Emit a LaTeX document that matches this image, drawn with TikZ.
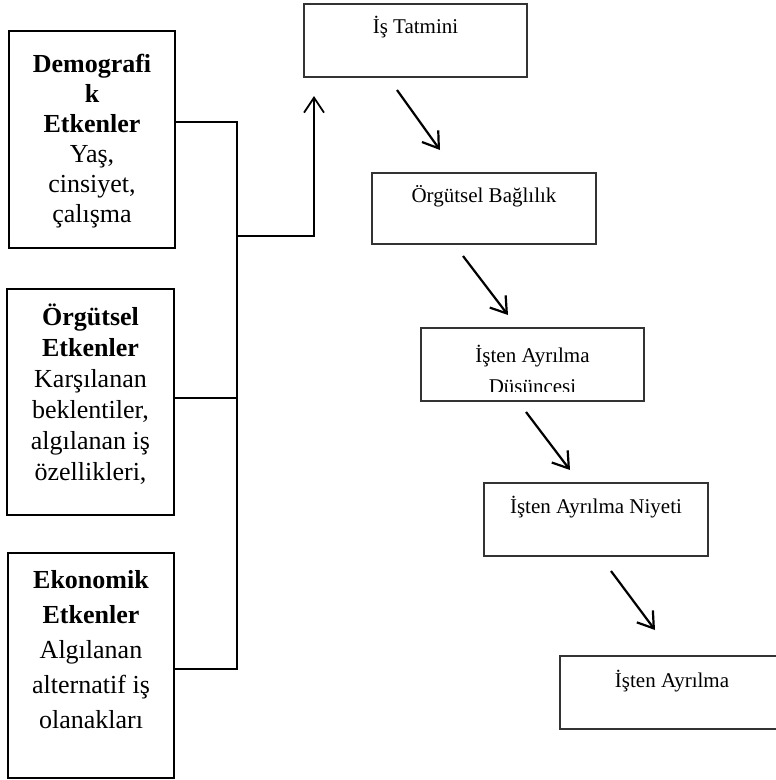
\documentclass[tikz,border=0pt]{standalone}
\usepackage{fontspec}
\setmainfont{Liberation Serif}
\usetikzlibrary{arrows.meta,positioning,calc}
\tikzset{
  fac/.style={draw=black,line width=1.2pt,minimum width=166pt,inner sep=0pt},
  stage/.style={draw=black!80,line width=1.5pt,minimum width=223pt,minimum height=73pt,inner sep=0pt},
  ftxt/.style={anchor=north,inner sep=0pt,align=center,font=\fontsize{26}{30}\selectfont},
  stxt/.style={anchor=north,inner sep=0pt,align=center,font=\fontsize{21}{28}\selectfont},
  link/.style={line width=1.6pt,draw=black},
  flow/.style={-{Straight Barb[length=15pt,width=20pt,line width=2.2pt]},line width=2.2pt,draw=black},
}
\newcommand{\tallA}{\rule{0pt}{24pt}}
\newcommand{\tallB}{\rule{0pt}{20pt}}

\begin{document}
\begin{tikzpicture}[x=1pt,y=-1pt]
  \useasboundingbox (0,0) rectangle (776,780);

  % ===== left: factor boxes =====
  \node[fac,minimum height=217pt] (dem) at (92,139.5) {};
  \node[fac,minimum height=226pt,minimum width=167pt] (org) at (90.5,402) {};
  \node[fac,minimum height=225pt] (eko) at (91,665.5) {};
  \node[ftxt] (demt) at (92,48)
    {\tallA\textbf{Demografi}\\ \textbf{k}\\ \textbf{Etkenler}\\ Yaş,\\ cinsiyet,\\ çalışma};
  \node[ftxt,font=\fontsize{26}{31}\selectfont] (orgt) at (90.5,301)
    {\tallA\textbf{Örgütsel}\\ \textbf{Etkenler}\\ Karşılanan\\ beklentiler,\\ algılanan iş\\ özellikleri,};
  \node[ftxt,font=\fontsize{26}{35}\selectfont] (ekot) at (91,564)
    {\tallA\textbf{Ekonomik}\\ \textbf{Etkenler}\\ Algılanan\\ alternatif iş\\ olanakları};

  % bus joining the three factor boxes
  \coordinate (j1) at (237,122);
  \coordinate (j2) at (237,398);
  \coordinate (j3) at (237,669);
  \coordinate (bus) at (237,236);
  \coordinate (tip) at (314,96);
  \draw[link] (dem.east |- j1) -- (j1) -- (j3) -- (eko.east |- j3);
  \draw[link] (org.east |- j2) -- (j2);
  \draw[link,-{Straight Barb[length=15pt,width=20pt,line width=1.8pt]}] (bus) -| (tip);

  % ===== right: stages =====
  \node[stage] (sat) at (415.5,40.5) {};
  \node[stage,minimum width=224pt,minimum height=71pt] (bag) at (484,208.5) {};
  \node[stage] (dus) at (532.5,364.5) {};
  \node[stage,minimum width=224pt] (niy) at (596,519.5) {};
  \node[stage,minimum width=224pt] (ayr) at (672,692.5) {};
  \node[stxt] (satt) at (415.5,13) {\tallB İş Tatmini};
  \node[stxt] (bagt) at (484,182) {\tallB Örgütsel Bağlılık};
  \begin{scope}
    \clip (dus.north west) rectangle ($(dus.south east)+(0,-10)$);
    \node[stxt,font=\fontsize{21}{31}\selectfont] (dust) at (532.5,342) {\tallB İşten Ayrılma\\ Düşüncesi};
  \end{scope}
  \node[stxt] (niyt) at (596,493) {\tallB İşten Ayrılma Niyeti};
  \node[stxt] (ayrt) at (672,667) {\tallB İşten Ayrılma};

  % free-standing arrows between stages
  \coordinate (a1) at (397,90);  \coordinate (b1) at (440,150);
  \coordinate (a2) at (463,256); \coordinate (b2) at (508,315);
  \coordinate (a3) at (526,412); \coordinate (b3) at (570,470);
  \coordinate (a4) at (611,571); \coordinate (b4) at (655,630);
  \draw[flow] (a1) -- (b1);
  \draw[flow] (a2) -- (b2);
  \draw[flow] (a3) -- (b3);
  \draw[flow] (a4) -- (b4);
\end{tikzpicture}
\end{document}
